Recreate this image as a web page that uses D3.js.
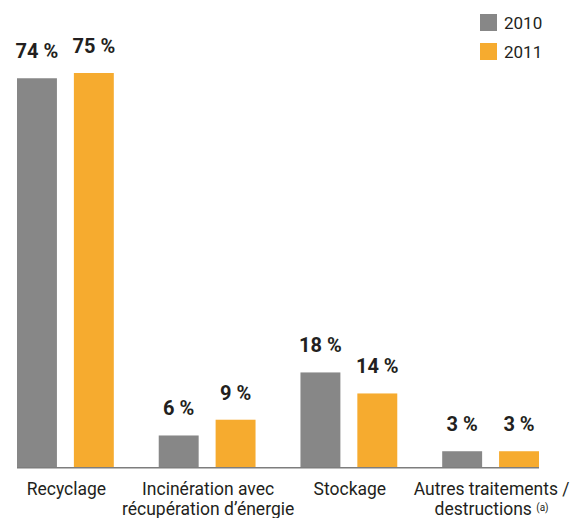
<!DOCTYPE html>
<html>
<head>
<meta charset="utf-8">
<script src="https://cdn.jsdelivr.net/npm/d3@7"></script>
<style>
  html, body { margin: 0; padding: 0; background: #fff; }
  svg { display: block; }
</style>
</head>
<body>
<svg id="chart" width="574" height="518"></svg>
<script>
// Waste treatment breakdown, share by route (%)
const categories = ["Recyclage", "Incinération avec récupération d’énergie", "Stockage", "Autres traitements / destructions"];
const categoryLines = [["Recyclage"], ["Incinération avec", "récupération d’énergie"], ["Stockage"], ["Autres traitements /", "destructions"]];
const categoryNotes = ["", "", "", "(a)"];
const series = ["2010", "2011"];
const values2010 = [74, 6, 18, 3];
const values2011 = [75, 9, 14, 3];
const seriesColors = ["#878787", "#F6AB2F"];

const svg = d3.select("#chart");
const textColor = "#231f20";
const font = "Roboto, 'Liberation Sans', sans-serif";
const baseY = 467;

const x = d3.scaleBand().domain(categories).range([17, 539]).paddingInner(0.317);
const xs = d3.scaleBand().domain(series).range([0, x.bandwidth()]).paddingInner(0.298);
const y = d3.scaleLinear().domain([0, 75]).range([baseY, 73]);

const rows = categories.map((c, i) => ({ cat: c, vals: [values2010[i], values2011[i]] }));

const groups = svg.selectAll("g.grp").data(rows).join("g")
  .attr("class", "grp")
  .attr("transform", d => `translate(${x(d.cat)},0)`);

groups.selectAll("rect").data(d => d.vals.map((v, j) => ({ v, s: series[j], j })))
  .join("rect")
  .attr("x", d => xs(d.s))
  .attr("y", d => y(d.v))
  .attr("width", xs.bandwidth())
  .attr("height", d => baseY - y(d.v))
  .attr("fill", d => seriesColors[d.j]);

groups.selectAll("text.val").data(d => d.vals.map((v, j) => ({ v, s: series[j] })))
  .join("text")
  .attr("class", "val")
  .attr("x", d => xs(d.s) + xs.bandwidth() / 2)
  .attr("y", d => y(d.v) - 20)
  .attr("text-anchor", "middle")
  .attr("font-family", font)
  .attr("font-weight", "bold")
  .attr("font-size", 20)
  .attr("fill", textColor)
  .text(d => `${d.v} %`);

// baseline
svg.append("line")
  .attr("x1", x.range()[0]).attr("x2", x.range()[1])
  .attr("y1", baseY + 0.75).attr("y2", baseY + 0.75)
  .attr("stroke", "#7d7d7d").attr("stroke-width", 1.5);

// category labels, one text per line
rows.forEach((d, i) => {
  const cx = x(d.cat) + x.bandwidth() / 2 + 1;
  const lines = categoryLines[i];
  lines.forEach((ln, k) => {
    const t = svg.append("text")
      .attr("class", "cat")
      .attr("x", cx)
      .attr("y", 495 + k * 20)
      .attr("text-anchor", "middle")
      .attr("font-family", font)
      .attr("font-size", 17.5)
      .attr("fill", textColor)
      .text(ln);
    if (k === lines.length - 1 && categoryNotes[i]) {
      t.text(ln + " ");
      t.append("tspan").attr("font-size", 10).attr("dy", -4).text(categoryNotes[i]);
    }
  });
});

// legend
const legend = svg.append("g").attr("transform", "translate(480,14)");
series.forEach((s, i) => {
  const g = legend.append("g").attr("transform", `translate(0,${i * 29})`);
  g.append("rect").attr("width", 17).attr("height", 17).attr("fill", seriesColors[i]);
  g.append("text").attr("x", 24).attr("y", 15)
    .attr("font-family", font).attr("font-size", 17).attr("fill", textColor).text(s);
});
</script>
</body>
</html>
